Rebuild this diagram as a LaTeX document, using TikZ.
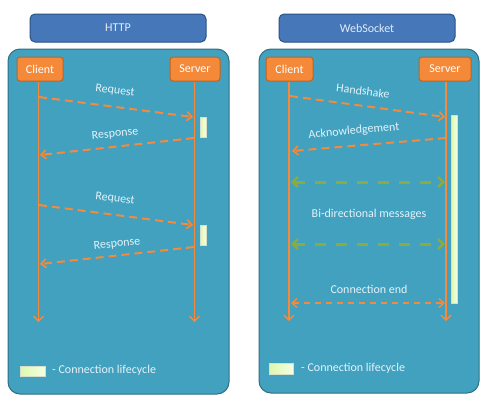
\documentclass[tikz,border=0pt]{standalone}
\usepackage{fontspec}
\setmainfont{Carlito}
\usetikzlibrary{arrows.meta}
\definecolor{panelfill}{HTML}{41A1BF}
\definecolor{paneldraw}{HTML}{2E6F86}
\definecolor{titlefill}{HTML}{4677B8}
\definecolor{titledraw}{HTML}{2B5286}
\definecolor{titletext}{HTML}{E2ECF8}
\definecolor{orfill}{HTML}{F5893A}
\definecolor{ordraw}{HTML}{C0641F}
\definecolor{msg}{HTML}{F58A3C}
\definecolor{grn}{HTML}{8DAA3E}
\definecolor{lbl}{HTML}{E4F3FA}
\definecolor{barA}{HTML}{DDF8AE}
\definecolor{barB}{HTML}{F4FFE2}
\tikzset{
  x=1pt,y=-1pt,
  panel/.style={draw=paneldraw,line width=1pt,fill=panelfill,rounded corners=12pt},
  titlebox/.style={draw=titledraw,line width=1pt,fill=titlefill,rounded corners=5pt,
    minimum width=176pt,minimum height=28pt,text=titletext,font=\fontsize{12}{14}\selectfont},
  actor/.style={draw=ordraw,line width=1pt,fill=orfill,rounded corners=3pt,
    minimum height=24pt,text=white,font=\fontsize{12}{14}\selectfont,inner sep=0pt},
  life/.style={draw=msg,line width=1.3pt,-{Straight Barb[length=5pt,width=10pt,line width=1.3pt]}},
  message/.style={draw=msg,line width=2pt,dash pattern=on 8pt off 5pt,
    -{Straight Barb[length=5pt,width=9pt,line width=1.6pt]}},
  thinmsg/.style={draw=msg,line width=1.6pt,dash pattern=on 6pt off 5pt,
    {Straight Barb[length=5pt,width=9pt,line width=1.5pt]}-{Straight Barb[length=5pt,width=9pt,line width=1.5pt]}},
  bimsg/.style={draw=grn,line width=3pt,dash pattern=on 11pt off 10pt,
    {Straight Barb[length=5pt,width=10pt,line width=2.5pt]}-{Straight Barb[length=5pt,width=10pt,line width=2.5pt]}},
  lab/.style={text=lbl,font=\fontsize{12}{14}\selectfont,inner sep=0pt},
  lifebar/.style={draw=barA!70!black!40,line width=0.3pt,left color=barA,right color=barB},
}
\begin{document}
\begin{tikzpicture}
\useasboundingbox (0,0) rectangle (495,408);
\fill[white] (0,0) rectangle (495,408);

% ---------------- HTTP ----------------
\node[titlebox] (httpt) at (118,28) {HTTP};
\draw[panel] (8,49) rectangle (229,394);
\node[actor,minimum width=46pt] (hc) at (40,69) {Client};
\node[actor,minimum width=50pt] (hs) at (195,69) {Server};
\coordinate (hcend) at (38.5,322);
\coordinate (hsend) at (194.5,322);
\draw[life] (hc.south -| hcend) -- (hcend);
\draw[life] (hs.south -| hsend) -- (hsend);

\coordinate (r1a) at (39,97);  \coordinate (r1b) at (193,117);
\coordinate (p1a) at (194,138); \coordinate (p1b) at (40,155);
\coordinate (r2a) at (39,205); \coordinate (r2b) at (193,225);
\coordinate (p2a) at (194,247); \coordinate (p2b) at (40,264);
\draw[message] (r1a) -- (r1b);
\draw[message] (p1a) -- (p1b);
\draw[message] (r2a) -- (r2b);
\draw[message] (p2a) -- (p2b);
\node[lab,rotate=-7] (lr1) at (115,91) {Request};
\node[lab,rotate=6] (lp1) at (115,134) {Response};
\node[lab,rotate=-7] (lr2) at (115,199) {Request};
\node[lab,rotate=6] (lp2) at (117,244) {Response};
\draw[lifebar] (200,117) rectangle (206,137);
\draw[lifebar] (200,225) rectangle (206,245);

\draw[lifebar] (20,366) rectangle (45,376);
\node[lab,anchor=west] (hleg) at (52,370.5) {- Connection lifecycle};

% ---------------- WebSocket ----------------
\node[titlebox] (wst) at (367,28) {WebSocket};
\draw[panel] (259,49) rectangle (479,393);
\node[actor,minimum width=47pt] (wc) at (289.5,69) {Client};
\node[actor,minimum width=52pt] (ws) at (445,69) {Server};
\coordinate (wcend) at (289,321);
\coordinate (wsend) at (446,321);
\draw[life] (wc.south -| wcend) -- (wcend);
\draw[life] (ws.south -| wsend) -- (wsend);

\draw[lifebar] (451,115) rectangle (457,303);

\coordinate (h1a) at (290,96);  \coordinate (h1b) at (445,117);
\coordinate (k1a) at (446,138); \coordinate (k1b) at (292,151);
\coordinate (g1a) at (291,182); \coordinate (g1b) at (445,182);
\coordinate (g2a) at (291,244); \coordinate (g2b) at (445,244);
\coordinate (e1a) at (291,303); \coordinate (e1b) at (445,303);
\draw[message] (h1a) -- (h1b);
\draw[message] (k1a) -- (k1b);
\draw[bimsg] (g1a) -- (g1b);
\draw[bimsg] (g2a) -- (g2b);
\draw[thinmsg] (e1a) -- (e1b);
\node[lab,rotate=-7] (lh) at (363,91) {Handshake};
\node[lab,rotate=5] (lk) at (354,131) {Acknowledgement};
\node[lab] (lb) at (369,214) {Bi-directional messages};
\node[lab] (le) at (369,289) {Connection end};

\draw[lifebar] (269,363) rectangle (293,374);
\node[lab,anchor=west] (wleg) at (301,368) {- Connection lifecycle};
\end{tikzpicture}
\end{document}
